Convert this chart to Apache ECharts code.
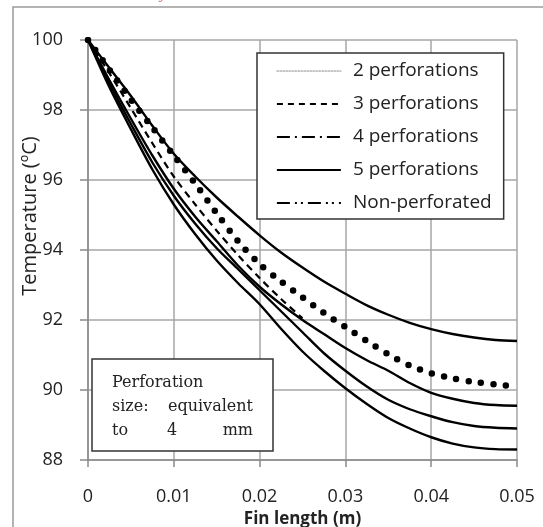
<!DOCTYPE html>
<html>
<head>
<meta charset="utf-8">
<script src="https://cdn.jsdelivr.net/npm/echarts@6/dist/echarts.min.js"></script>
<style>
html,body{margin:0;padding:0;background:#fff;}
#chart{width:543px;height:527px;}
</style>
</head>
<body>
<div id="chart"></div>
<script>
// Fin length (m)
const finLength = [0, 0.0025, 0.005, 0.0075, 0.01, 0.0125, 0.015, 0.0175, 0.02, 0.0225, 0.025,
  0.0275, 0.03, 0.0325, 0.035, 0.0375, 0.04, 0.0425, 0.045, 0.0475, 0.05];
// Temperature (ºC)
const nonPerforated = [100, 99.2, 98.4, 97.55, 96.75, 96.1, 95.5, 94.95, 94.42, 93.93, 93.5,
  93.1, 92.75, 92.42, 92.15, 91.92, 91.74, 91.6, 91.5, 91.43, 91.4];
const perf2 = [100, 99.15, 98.3, 97.5, 96.7, 95.9, 95.05, 94.25, 93.6, 93.1, 92.65,
  92.2, 91.8, 91.4, 91.02, 90.7, 90.48, 90.33, 90.23, 90.16, 90.1];
const perf3Dashed = [100, 99.05, 98.05, 97.05, 96.1, 95.3, 94.55, 93.85, 93.2, 92.6, 92.05,
  null, null, null, null, null, null, null, null, null, null];
const perf3 = [100, 98.85, 97.75, 96.7, 95.75, 94.95, 94.25, 93.55, 92.95, 92.45, 92.0,
  91.6, 91.2, 90.85, 90.55, 90.2, 89.92, 89.75, 89.63, 89.57, 89.55];
const perf4 = [100, 98.75, 97.6, 96.5, 95.55, 94.75, 94.05, 93.45, 92.85, 92.25, 91.65,
  91.05, 90.55, 90.1, 89.72, 89.45, 89.25, 89.08, 88.97, 88.92, 88.9];
const perf5 = [100, 98.65, 97.45, 96.3, 95.3, 94.45, 93.7, 93.05, 92.45, 91.75, 91.1,
  90.55, 90.05, 89.6, 89.2, 88.9, 88.65, 88.47, 88.36, 88.31, 88.3];
const legendNames = ['2 perforations', '3 perforations', '4 perforations', '5 perforations', 'Non-perforated'];
const xTicks = [0, 0.01, 0.02, 0.03, 0.04, 0.05];
const yTicks = [88, 90, 92, 94, 96, 98, 100];

const pair = arr => finLength.map((x, i) => [x, arr[i]]);
const FONT = '"Open Sans", "Noto Sans", sans-serif';
const TXT = '#222';

const chart = echarts.init(document.getElementById('chart'), null, {renderer: 'canvas'});

const solid = {color: '#000', width: 2.4, type: 'solid'};
function lineSeries(name, data, lineStyle, z) {
  return {name, type: 'line', data: pair(data), symbol: 'none', smooth: 0.3,
    connectNulls: false, lineStyle, itemStyle: {color: '#000'}, z: z || 2, animation: false};
}
const hideSym = {opacity: 0};

chart.setOption({
  animation: false,
  backgroundColor: '#fff',
  grid: {left: 88, right: 26, top: 40, bottom: 67, containLabel: false, outerBoundsMode: 'none'},
  xAxis: {
    type: 'value', min: xTicks[0], max: xTicks[xTicks.length - 1], interval: 0.01,
    name: 'Fin length (m)', nameLocation: 'middle', nameGap: 45,
    nameTextStyle: {fontFamily: FONT, fontSize: 17, fontWeight: 'bold', color: TXT},
    axisLine: {show: true, lineStyle: {color: '#8a8a8a', width: 1.5}},
    axisTick: {show: true, length: 7, lineStyle: {color: '#8a8a8a', width: 1.5}},
    axisLabel: {fontFamily: FONT, fontSize: 18, color: TXT, margin: 28,
      formatter: v => String(+v.toFixed(2))},
    splitLine: {show: true, lineStyle: {color: '#a6a6a6', width: 1.5}}
  },
  yAxis: {
    type: 'value', min: yTicks[0], max: yTicks[yTicks.length - 1], interval: 2,
    axisLine: {show: true, lineStyle: {color: '#8a8a8a', width: 1.5}},
    axisTick: {show: true, length: 8, lineStyle: {color: '#8a8a8a', width: 1.5}},
    axisLabel: {fontFamily: FONT, fontSize: 18, color: TXT, margin: 25},
    splitLine: {show: true, lineStyle: {color: '#a6a6a6', width: 1.5}}
  },
  legend: {
    orient: 'vertical', left: 257, top: 53,
    backgroundColor: '#fff', borderColor: '#333', borderWidth: 1.5,
    padding: [8, 12, 6, 19],
    itemWidth: 64, itemHeight: 14, itemGap: 13,
    textStyle: {fontFamily: FONT, fontSize: 19, color: '#222', lineHeight: 20, padding: [0, 0, 0, 7]},
    data: [
      {name: legendNames[0], itemStyle: hideSym, lineStyle: {color: '#888', width: 1.2, type: [1.5, 1.5]}},
      {name: legendNames[1], itemStyle: hideSym, lineStyle: {color: '#000', width: 1.8, type: [6, 5]}},
      {name: legendNames[2], itemStyle: hideSym, lineStyle: {color: '#000', width: 1.8, type: [13, 5, 2, 5]}},
      {name: legendNames[3], itemStyle: hideSym, lineStyle: {color: '#000', width: 1.8, type: 'solid'}},
      {name: legendNames[4], itemStyle: hideSym, lineStyle: {color: '#000', width: 1.8, type: [13, 5, 2, 4, 2, 5]}}
    ]
  },
  series: [
    lineSeries(legendNames[4], nonPerforated, solid),
    lineSeries(legendNames[2], perf4, solid),
    lineSeries(legendNames[3], perf5, solid),
    lineSeries(legendNames[1], perf3, solid),
    lineSeries(legendNames[1], perf3Dashed, {color: '#000', width: 2.2, type: [7, 5]}),
    lineSeries(legendNames[0], perf2, {color: '#000', width: 6.5, type: [0, 12.5], cap: 'round'}, 3)
  ],
  graphic: [
    {type: 'polyline', shape: {points: [[13, 540], [13, 7], [545, 7]]}, style: {stroke: '#9a9a9a', lineWidth: 1.5, fill: null}, silent: true},
    {type: 'text', x: 160, y: -14, style: {text: 'y', font: 'italic 16px "Liberation Serif"', fill: '#e06a6a'}, silent: true},
    {type: 'text', x: 30, y: 216, rotation: Math.PI / 2,
      style: {text: 'Temperature (ºC)', font: '20px ' + FONT, fill: TXT, align: 'center', verticalAlign: 'middle'}, silent: true},
    {type: 'rect', shape: {x: 92, y: 359, width: 181, height: 92}, style: {fill: '#fff', stroke: '#333', lineWidth: 1.5}, z: 10, silent: true},
    {type: 'text', x: 112, y: 383, style: {text: 'Perforation', font: '16px "DejaVu Serif"', fill: '#222', verticalAlign: 'middle'}, z: 11, silent: true},
    {type: 'text', x: 112, y: 407, style: {text: 'size:', font: '16px "DejaVu Serif"', fill: '#222', verticalAlign: 'middle'}, z: 11, silent: true},
    {type: 'text', x: 253, y: 407, style: {text: 'equivalent', font: '16px "DejaVu Serif"', fill: '#222', align: 'right', verticalAlign: 'middle'}, z: 11, silent: true},
    {type: 'text', x: 112, y: 431, style: {text: 'to', font: '16px "DejaVu Serif"', fill: '#222', verticalAlign: 'middle'}, z: 11, silent: true},
    {type: 'text', x: 167, y: 431, style: {text: '4', font: '16px "DejaVu Serif"', fill: '#222', verticalAlign: 'middle'}, z: 11, silent: true},
    {type: 'text', x: 253, y: 431, style: {text: 'mm', font: '16px "DejaVu Serif"', fill: '#222', align: 'right', verticalAlign: 'middle'}, z: 11, silent: true}
  ]
});
</script>
</body>
</html>
